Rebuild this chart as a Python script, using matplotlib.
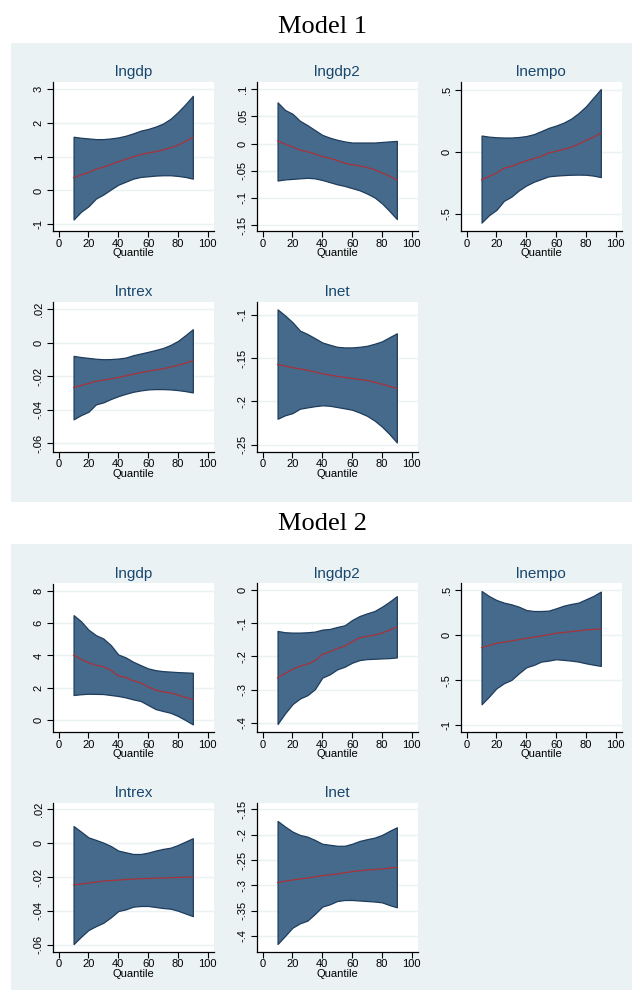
import matplotlib
matplotlib.use("Agg")
import matplotlib.pyplot as plt
from matplotlib.patches import Rectangle

W, H = 635, 997

quantiles = [10, 15, 20, 25, 30, 35, 40, 45, 50, 55, 60, 65, 70, 75, 80, 85, 90]
variables = ["lngdp", "lngdp2", "lnempo", "lntrex", "lnet"]

# ---------------- Model 1 ----------------
m1_lngdp_coef = [.38, .46, .53, .63, .69, .77, .85, .92, 1.00, 1.06, 1.11, 1.15, 1.20, 1.26, 1.34, 1.45, 1.57]
m1_lngdp_lo = [-.86, -.63, -.47, -.24, -.12, .03, .17, .26, .35, .40, .42, .44, .45, .45, .43, .40, .35]
m1_lngdp_hi = [1.59, 1.56, 1.54, 1.52, 1.52, 1.54, 1.57, 1.62, 1.69, 1.77, 1.82, 1.89, 1.98, 2.12, 2.32, 2.55, 2.80]

m1_lngdp2_coef = [.005, -.001, -.006, -.012, -.015, -.019, -.024, -.027, -.031, -.036, -.039, -.041, -.044, -.048, -.054, -.060, -.067]
m1_lngdp2_lo = [-.068, -.066, -.065, -.064, -.063, -.064, -.067, -.071, -.075, -.078, -.082, -.086, -.092, -.099, -.110, -.124, -.139]
m1_lngdp2_hi = [.076, .062, .055, .042, .034, .025, .016, .011, .007, .004, .002, .002, .002, .002, .003, .004, .005]

m1_lnempo_coef = [-.224, -.196, -.170, -.130, -.115, -.092, -.070, -.052, -.034, -.007, .007, .022, .040, .065, .093, .120, .153]
m1_lnempo_lo = [-.57, -.51, -.467, -.394, -.36, -.31, -.27, -.24, -.218, -.196, -.19, -.186, -.183, -.182, -.183, -.19, -.202]
m1_lnempo_hi = [.134, .125, .120, .118, .118, .122, .130, .145, .170, .196, .215, .238, .27, .315, .37, .44, .51]

m1_lntrex_coef = [-.0267, -.0255, -.0244, -.023, -.0224, -.0216, -.0208, -.0198, -.0188, -.0179, -.017, -.0163, -.0156, -.0146, -.0135, -.0122, -.0109]
m1_lntrex_lo = [-.0457, -.0432, -.0412, -.0368, -.0356, -.0336, -.0319, -.0305, -.0293, -.0285, -.0279, -.0277, -.0277, -.0279, -.0283, -.0289, -.0297]
m1_lntrex_hi = [-.0079, -.0086, -.0091, -.0096, -.0099, -.0098, -.0095, -.0089, -.0075, -.0065, -.0055, -.0044, -.0032, -.0014, .001, .0044, .008]

m1_lnet_coef = [-.1575, -.159, -.161, -.1625, -.164, -.166, -.168, -.1695, -.171, -.1723, -.1735, -.1747, -.1758, -.1778, -.180, -.1825, -.185]
m1_lnet_lo = [-.220, -.216, -.2135, -.2084, -.2069, -.2055, -.2045, -.205, -.2065, -.208, -.2096, -.2128, -.2166, -.222, -.229, -.2376, -.2473]
m1_lnet_hi = [-.0938, -.1008, -.1086, -.1183, -.1222, -.127, -.132, -.1346, -.137, -.1377, -.1377, -.137, -.1358, -.1335, -.1307, -.126, -.1214]

# ---------------- Model 2 ----------------
m2_lngdp_coef = [4.02, 3.77, 3.55, 3.40, 3.30, 3.09, 2.74, 2.64, 2.43, 2.31, 2.06, 1.86, 1.75, 1.69, 1.55, 1.40, 1.28]
m2_lngdp_lo = [1.55, 1.60, 1.63, 1.62, 1.61, 1.55, 1.49, 1.40, 1.28, 1.18, .93, .68, .56, .45, .25, .00, -.27]
m2_lngdp_hi = [6.50, 6.12, 5.60, 5.26, 5.05, 4.64, 4.06, 3.88, 3.61, 3.40, 3.20, 3.09, 3.03, 3.00, 2.97, 2.95, 2.93]

m2_lngdp2_coef = [-.265, -.251, -.239, -.229, -.223, -.213, -.194, -.186, -.176, -.169, -.156, -.144, -.139, -.136, -.129, -.121, -.111]
m2_lngdp2_lo = [-.404, -.372, -.344, -.327, -.317, -.299, -.264, -.254, -.239, -.231, -.219, -.211, -.208, -.207, -.206, -.205, -.203]
m2_lngdp2_hi = [-.123, -.127, -.128, -.128, -.127, -.125, -.119, -.117, -.111, -.106, -.090, -.078, -.070, -.063, -.050, -.035, -.018]

m2_lnempo_coef = [-.139, -.115, -.091, -.078, -.065, -.050, -.036, -.023, -.010, .005, .020, .029, .038, .048, .057, .063, .068]
m2_lnempo_lo = [-.767, -.682, -.59, -.534, -.497, -.424, -.357, -.331, -.294, -.283, -.268, -.275, -.283, -.294, -.313, -.328, -.342]
m2_lnempo_hi = [.489, .433, .389, .36, .341, .315, .278, .267, .267, .271, .297, .326, .345, .36, .397, .434, .482]

m2_lntrex_coef = [-.0247, -.0241, -.0236, -.0230, -.0224, -.0221, -.0218, -.0215, -.0212, -.0210, -.0209, -.0207, -.0206, -.0204, -.0203, -.0201, -.0200]
m2_lntrex_lo = [-.0596, -.0553, -.0513, -.049, -.047, -.0438, -.0401, -.0391, -.0375, -.0371, -.0371, -.0377, -.0383, -.0387, -.0399, -.0415, -.0431]
m2_lntrex_hi = [.0101, .0068, .0034, .0019, .0003, -.0017, -.0044, -.0054, -.0064, -.0064, -.0056, -.0044, -.0034, -.0027, -.0011, .0009, .0029]

m2_lnet_coef = [-.2947, -.292, -.2895, -.2875, -.2855, -.2833, -.281, -.2793, -.2776, -.2753, -.273, -.2713, -.2697, -.2688, -.2678, -.2662, -.2645]
m2_lnet_lo = [-.4158, -.400, -.3836, -.375, -.3697, -.3566, -.342, -.3375, -.331, -.329, -.329, -.330, -.331, -.332, -.3336, -.3389, -.3434]
m2_lnet_hi = [-.173, -.184, -.194, -.2007, -.204, -.2105, -.218, -.220, -.222, -.222, -.218, -.2125, -.209, -.206, -.2007, -.1928, -.1855]

# y ticks per panel
m1_yticks = [[-1, 0, 1, 2, 3], [-.15, -.1, -.05, 0, .05, .1], [-.5, 0, .5],
             [-.06, -.04, -.02, 0, .02], [-.25, -.2, -.15, -.1]]
m2_yticks = [[0, 2, 4, 6, 8], [-.4, -.3, -.2, -.1, 0], [-1, -.5, 0, .5],
             [-.06, -.04, -.02, 0, .02], [-.4, -.35, -.3, -.25, -.2, -.15]]
m1_ylims = [(-1.2, 3.21), (-.161, .1135), (-.638, .567), (-.065, .0242), (-.258, -.0853)]
m2_ylims = [(-.76, 8.46), (-.429, .0202), (-1.078, .572), (-.0641, .0237), (-.431, -.1376)]
x_ticks = [0, 20, 40, 60, 80, 100]

models = [
    ("Model 1",
     [(m1_lngdp_coef, m1_lngdp_lo, m1_lngdp_hi), (m1_lngdp2_coef, m1_lngdp2_lo, m1_lngdp2_hi),
      (m1_lnempo_coef, m1_lnempo_lo, m1_lnempo_hi), (m1_lntrex_coef, m1_lntrex_lo, m1_lntrex_hi),
      (m1_lnet_coef, m1_lnet_lo, m1_lnet_hi)], m1_yticks, m1_ylims),
    ("Model 2",
     [(m2_lngdp_coef, m2_lngdp_lo, m2_lngdp_hi), (m2_lngdp2_coef, m2_lngdp2_lo, m2_lngdp2_hi),
      (m2_lnempo_coef, m2_lnempo_lo, m2_lnempo_hi), (m2_lntrex_coef, m2_lntrex_lo, m2_lntrex_hi),
      (m2_lnet_coef, m2_lnet_lo, m2_lnet_hi)], m2_yticks, m2_ylims),
]

BG = "#EAF2F3"
FILL = "#466A8C"
EDGE = "#1E3C5C"
LINE = "#A8323A"
TITLE_C = "#1A476F"


def fmt(v):
    if abs(v) < 1e-12:
        return "0"
    s = f"{v:g}"
    s = s.replace("-0.", "-.")
    if s.startswith("0."):
        s = s[1:]
    return s


fig = plt.figure(figsize=(W / 100, H / 100), dpi=100)
fig.patch.set_facecolor("white")

# background layer axes
bg_ax = fig.add_axes([0, 0, 1, 1], zorder=-10)
bg_ax.set_xlim(0, W)
bg_ax.set_ylim(H, 0)
bg_ax.axis("off")

# layout in pixels
panel_boxes = [(11, 43, 632, 502), (11, 544, 632, 990)]
model_title_y = [27, 524]
col_left = [52.7, 256.7, 460.7]
ax_w = 161
row_boxes = [[(82, 231), (302, 451.7)], [(583.5, 732.3), (803, 951.7)]]

for mi, (mname, series, yticks, ylims) in enumerate(models):
    x0, y0, x1, y1 = panel_boxes[mi]
    bg_ax.add_patch(Rectangle((x0, y0), x1 - x0, y1 - y0, facecolor=BG, edgecolor="none"))
    fig.text(0.5 * (x0 + x1) / W + 0.002, 1 - model_title_y[mi] / H, mname, ha="center", va="center",
             family="Liberation Serif", fontsize=19, color="black")
    for k, var in enumerate(variables):
        r, c = divmod(k, 3)
        top, bot = row_boxes[mi][r]
        ax = fig.add_axes([col_left[c] / W, 1 - bot / H, ax_w / W, (bot - top) / H])
        ax.set_facecolor("white")
        coef, lo, hi = series[k]
        ax.fill_between(quantiles, lo, hi, facecolor=FILL, edgecolor=EDGE, linewidth=0.9, zorder=2)
        ax.plot(quantiles, coef, color=LINE, linewidth=0.9, zorder=3)
        ax.set_xlim(-4, 104)
        ax.set_ylim(*ylims[k])
        ax.set_xticks(x_ticks)
        ax.set_xticklabels([str(t) for t in x_ticks])
        ax.set_yticks(yticks[k])
        ax.set_yticklabels([fmt(t) for t in yticks[k]], rotation=90, va="center")
        for t in yticks[k]:
            ax.axhline(t, color=BG, linewidth=1.0, zorder=1)
        for s in ["top", "right"]:
            ax.spines[s].set_visible(False)
        for s in ["left", "bottom"]:
            ax.spines[s].set_linewidth(0.9)
            ax.spines[s].set_color("black")
        ax.tick_params(axis="both", direction="out", length=4, width=0.8, labelsize=8,
                       pad=1.5, colors="black")
        ax.tick_params(axis="y", pad=2.5)
        for lab in ax.get_xticklabels() + ax.get_yticklabels():
            lab.set_family("Liberation Sans")
        ax.set_xlabel("Quantile", fontsize=8, family="Liberation Sans", labelpad=-0.5)
        ax.set_title(var, fontsize=11, family="Liberation Sans", color=TITLE_C, pad=4)

fig.savefig("out.png", dpi=100, facecolor="white")
